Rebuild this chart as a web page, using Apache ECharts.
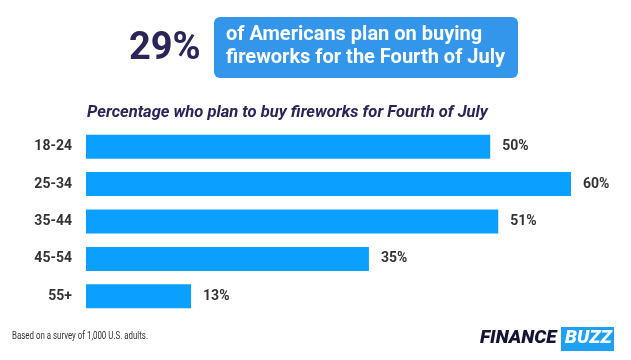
<!DOCTYPE html>
<html>
<head>
<meta charset="utf-8">
<script src="https://cdn.jsdelivr.net/npm/echarts@6/dist/echarts.min.js"></script>
<style>
html,body{margin:0;padding:0;background:#fff;}
#c{width:631px;height:360px;}
</style>
</head>
<body>
<div id="c"></div>
<script>
var categories = ['18-24', '25-34', '35-44', '45-54', '55+'];
var values = [50, 60, 51, 35, 13];
var headlineStat = '29%';
var headlineText = ['of Americans plan on buying', 'fireworks for the Fourth of July'];
var subtitle = 'Percentage who plan to buy fireworks for Fourth of July';
var footnote = 'Based on a survey of 1,000 U.S. adults.';

var navy = '#2a2458';
var blue = '#0ba0ff';
var chart = echarts.init(document.getElementById('c'), null, {renderer: 'canvas'});
chart.setOption({
  animation: false,
  backgroundColor: '#fff',
  grid: {left: 86, width: 485, top: 128, height: 187, containLabel: false},
  xAxis: {type: 'value', min: 0, max: 60, show: false},
  yAxis: {
    type: 'category', data: categories, inverse: true,
    axisLine: {show: false}, axisTick: {show: false}, splitLine: {show: false},
    axisLabel: {margin: 14, color: '#333', fontFamily: 'Roboto', fontWeight: 'bold', fontSize: 14}
  },
  series: [{
    type: 'bar', data: values, barWidth: 24,
    itemStyle: {color: blue},
    label: {show: true, position: 'right', distance: 12, formatter: '{c}%',
      color: '#333', fontFamily: 'Roboto', fontWeight: 'bold', fontSize: 14}
  }],
  graphic: [
    {type: 'text', x: 129, y: 30, style: {text: headlineStat, fill: navy,
      font: 'bold 38px Roboto'}},
    {type: 'rect', shape: {x: 214, y: 17, width: 304, height: 61, r: 6}, style: {fill: '#3396ea'}},
    {type: 'text', x: 226, y: 25, style: {text: headlineText[0], fill: '#fff',
      font: 'bold 20px Roboto'}},
    {type: 'text', x: 226, y: 47.5, style: {text: headlineText[1], fill: '#fff',
      font: 'bold 20px Roboto'}},
    {type: 'text', x: 87, y: 104, scaleX: 0.973, style: {text: subtitle, fill: navy,
      font: 'italic bold 17px Roboto'}},
    {type: 'text', x: 12, y: 331, scaleX: 0.79, style: {text: footnote, fill: '#333',
      font: '10px Roboto'}},
    {type: 'text', x: 480, y: 329, style: {text: 'FINANCE', fill: '#141433',
      font: 'italic 900 19px Roboto'}},
    {type: 'rect', shape: {x: 561, y: 327, width: 53, height: 24}, style: {fill: '#1ea0f5'}},
    {type: 'text', x: 565, y: 329, style: {text: 'BUZZ', fill: '#fff',
      font: 'italic 900 19px Roboto'}}
  ]
});
</script>
</body>
</html>
